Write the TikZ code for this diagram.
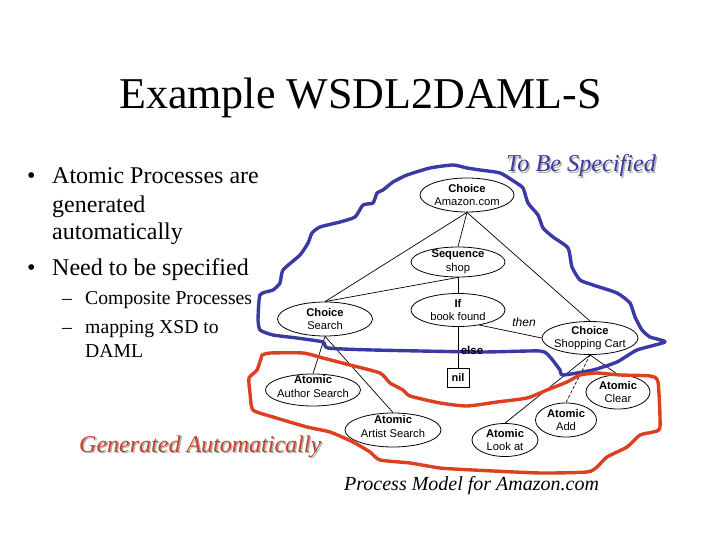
\documentclass[tikz,border=0pt]{standalone}
\usepackage{fontspec}
\setmainfont{Liberation Serif}
\newfontfamily\arialf{Liberation Sans}
\usetikzlibrary{shapes.geometric}
\definecolor{penblue}{HTML}{3A3AA6}
\definecolor{penred}{HTML}{DC4020}
\definecolor{headblue}{HTML}{3C3C9E}
\definecolor{headred}{HTML}{C8402A}
\newcommand{\fs}[1]{\fontsize{#1}{#1}\selectfont}
\newcommand{\ntext}[2]{{\fs{11.2}\bfseries #1}\\[2.5pt]{\fs{11.2}#2}}
\newcommand{\lift}{\rule[-7pt]{0pt}{0pt}}
\tikzset{
  proc/.style={ellipse,draw=black,line width=0.8pt,inner sep=-12pt,align=center,font=\arialf\fs{11.2}},
  edge/.style={draw=black,line width=0.7pt},
  pen/.style={line width=3.4pt,line join=round,line cap=round},
  slide/.style={inner sep=0pt,anchor=base west,text=black},
  shade/.style={inner sep=0pt,anchor=base west,text=black!30},
}
\begin{document}
\begin{tikzpicture}[x=1pt,y=-1pt]
\useasboundingbox (0,0) rectangle (720,540);
\fill[white] (0,0) rectangle (720,540);
\node[slide,font=\fs{44}] (title) at (119,109) {Example WSDL2DAML-S};
\node[slide,font=\fs{24}] (bu1) at (27,184) {•};
\node[slide,font=\fs{24}] (t1) at (52,184) {Atomic Processes are};
\node[slide,font=\fs{24}] (t2) at (52,212) {generated};
\node[slide,font=\fs{24}] (t3) at (52,240) {automatically};
\node[slide,font=\fs{24}] (bu2) at (27,275) {•};
\node[slide,font=\fs{24}] (t4) at (52,275) {Need to be specified};
\node[slide,font=\fs{19.7}] (d1) at (62,304) {–};
\node[slide,font=\fs{19.7}] (s1) at (85,304) {Composite Processes};
\node[slide,font=\fs{19.7}] (d2) at (62,333) {–};
\node[slide,font=\fs{19.7}] (s2) at (85,333) {mapping XSD to};
\node[slide,font=\fs{19.7}] (s3) at (85,357) {DAML};
\node[shade,font=\fs{24.2}\itshape] (tbsS) at (507.5,173.5) {To Be Specified};
\node[slide,text=headblue,font=\fs{24.2}\itshape] (tbs) at (506,172) {To Be Specified};
\node[shade,font=\fs{24}\itshape] (genS) at (80.5,453.5) {Generated Automatically};
\node[slide,text=headred,font=\fs{24}\itshape] (gen) at (79,452) {Generated Automatically};
\node[slide,font=\fs{20}\itshape] (pm) at (344,490) {Process Model for Amazon.com};

\node[proc,minimum width=94pt,minimum height=34pt] (amazon) at (467,195) {\ntext{Choice}{Amazon.com}};
\node[proc,minimum width=94pt,minimum height=30pt] (shop) at (458,262) {\ntext{Sequence}{shop}};
\node[proc,minimum width=94pt,minimum height=33pt] (iff) at (458,310) {\ntext{If}{book found}};
\node[proc,minimum width=95pt,minimum height=34pt] (search) at (325,319) {\ntext{Choice}{Search}};
\node[proc,minimum width=96pt,minimum height=33pt] (cart) at (590,338) {\ntext{Choice}{Shopping Cart}};
\node[proc,minimum width=95pt,minimum height=32pt] (author) at (313,390) {\ntext{Atomic}{Author Search\lift}};
\node[proc,minimum width=96pt,minimum height=34pt] (artist) at (393,430) {\ntext{Atomic}{Artist Search\lift}};
\node[proc,minimum width=66pt,minimum height=33pt] (look) at (505,440) {\ntext{Atomic}{Look at}};
\node[proc,minimum width=61pt,minimum height=34pt] (add) at (566,420) {\ntext{Atomic}{Add}};
\node[proc,minimum width=64pt,minimum height=34pt] (clear) at (618,392) {\ntext{Atomic}{Clear}};
\node[draw=black,line width=0.8pt,inner sep=0pt,minimum width=22pt,minimum height=19pt,font=\arialf\bfseries\fs{11}] (nil) at (458,377.5) {nil};
\node[inner sep=0pt,font=\arialf\itshape\fs{12}] (then) at (524,322) {then};

\draw[edge] (amazon.south) -- (shop.north);
\draw[edge] (amazon.south) -- (search.north);
\draw[edge] (amazon.south) -- (cart.north);
\draw[edge] (shop.south) -- (search.north);
\draw[edge] (shop.south) -- (iff.north);
\draw[edge] (iff.south) -- (nil.north);
\draw[edge] (iff.-35) -- (cart.west);
\draw[edge] (search.south) -- (author.north);
\draw[edge] (search.south) -- (artist.north);
\draw[edge] (cart.south) -- (look.north);
\draw[edge,densely dashed] (cart.south) -- (add.north);
\draw[edge] (cart.south) -- (clear.north);

\draw[pen,penblue] plot[smooth,tension=0.35] coordinates {
(258,320)(260,330)(273,335)(297,338)(323,342)(328,348)(373,350)(480,352)(540,351)(550,357)(560,370)(563,375)(593,370)(617,362)(637,350)(665,342)(650,337)(642,330)(635,317)(630,303)(617,293)(593,285)(580,280)(572,267)(568,248)(553,237)(543,228)(538,215)(528,203)(523,188)(515,182)(500,173)(480,170)(467,168)(453,165)(430,168)(407,175)(393,182)(383,190)(377,193)(373,203)(363,205)(355,217)(340,222)(320,227)(312,233)(308,243)(300,255)(283,270)(280,283)(273,290)(260,295)(258,320)};
\draw[pen,penred] plot[smooth,tension=0.35] coordinates {
(262,355)(270,353)(303,353)(323,358)(350,365)(380,373)(390,383)(403,390)(410,396)(440,403)(467,406)(497,402)(527,398)(547,390)(567,382)(580,375)(597,373)(620,375)(650,376)(658,382)(660,427)(653,432)(640,435)(627,447)(607,457)(597,467)(587,472)(540,473)(473,470)(440,468)(410,463)(380,460)(370,452)(353,442)(330,432)(307,427)(273,417)(253,410)(250,393)(249,378)(257,370)(262,355)};
\node[inner sep=0pt,font=\arialf\bfseries\fs{11.5}] (else) at (472,350) {else};
\end{tikzpicture}
\end{document}
